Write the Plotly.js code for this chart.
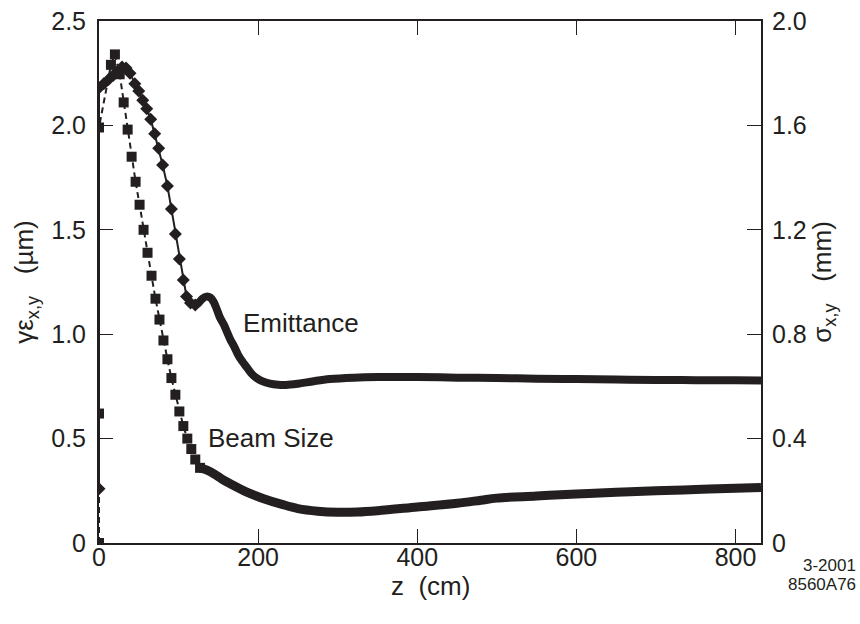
<!DOCTYPE html>
<html>
<head>
<meta charset="utf-8">
<script src="https://cdn.plot.ly/plotly-3.0.1.min.js"></script>
<style>body{margin:0;background:#fff;} #chart{width:860px;height:624px;}</style>
</head>
<body>
<div id="chart"></div>
<script>
// Emittance (µm), left axis — sparse marker section
const emitZ = [0, 0, 6, 12, 18, 24, 29, 34, 39, 45, 50, 55, 60, 65, 70, 75, 80, 86, 91, 96, 101, 106, 110, 115, 121];
const emitV = [0.26, 2.18, 2.2, 2.22, 2.24, 2.26, 2.28, 2.275, 2.25, 2.2, 2.165, 2.12, 2.08, 2.03, 1.96, 1.89, 1.81, 1.71, 1.6, 1.48, 1.36, 1.26, 1.18, 1.15, 1.14];
// Emittance — dense section (markers merge into a band)
const emitTailZ = [121, 125, 130, 135, 140, 144, 148, 152, 157, 161, 165, 170, 175, 180, 186, 192, 198, 205, 215, 225, 235, 250, 270, 290, 320, 350, 400, 450, 500, 550, 600, 650, 700, 750, 800, 832];
const emitTailV = [1.14, 1.15, 1.17, 1.18, 1.175, 1.155, 1.12, 1.08, 1.045, 1.01, 0.975, 0.94, 0.9, 0.87, 0.84, 0.81, 0.79, 0.775, 0.763, 0.758, 0.757, 0.763, 0.775, 0.785, 0.792, 0.795, 0.795, 0.792, 0.79, 0.787, 0.785, 0.783, 0.781, 0.78, 0.779, 0.778];

// Beam size (mm), right axis — sparse marker section
const beamZ = [0, 0, 0, 15, 20, 26, 31, 36, 41, 46, 51, 56, 61, 66, 71, 76, 81, 86, 91, 96, 101, 106, 111, 116, 121, 127];
const beamV = [0, 0.496, 1.592, 1.832, 1.872, 1.796, 1.688, 1.584, 1.48, 1.384, 1.296, 1.2, 1.112, 1.024, 0.936, 0.856, 0.776, 0.704, 0.632, 0.568, 0.504, 0.448, 0.4, 0.36, 0.32, 0.288];
// Beam size — dense section
const beamTailZ = [127, 135, 145, 155, 165, 185, 207, 230, 250, 275, 300, 325, 350, 400, 450, 480, 500, 550, 600, 650, 700, 750, 800, 832];
const beamTailV = [0.288, 0.28, 0.264, 0.244, 0.227, 0.196, 0.17, 0.148, 0.132, 0.122, 0.118, 0.119, 0.124, 0.138, 0.152, 0.164, 0.172, 0.18, 0.188, 0.194, 0.2, 0.205, 0.21, 0.213];

const xTicks = [0, 200, 400, 600, 800];
const yLeftTicks = [0, 0.5, 1.0, 1.5, 2.0, 2.5];
const yLeftLabels = ["0", "0.5", "1.0", "1.5", "2.0", "2.5"];
const yRightTicks = [0, 0.4, 0.8, 1.2, 1.6, 2.0];
const yRightLabels = ["0", "0.4", "0.8", "1.2", "1.6", "2.0"];

const ink = '#231f20';
const fam = 'Liberation Sans, Arial, sans-serif';
const tickFont = {family: fam, size: 25, color: ink};
const titleFont = {family: fam, size: 26, color: ink};
const noteFont = {family: fam, size: 26, color: ink};
const codeFont = {family: fam, size: 17, color: ink};

const traces = [
  {x: emitZ, y: emitV, type: 'scatter', mode: 'lines+markers', yaxis: 'y',
   line: {color: ink, width: 2}, marker: {symbol: 'diamond', size: 10, color: ink}, hoverinfo: 'skip'},
  {x: emitTailZ, y: emitTailV, type: 'scatter', mode: 'lines', yaxis: 'y',
   line: {color: ink, width: 8, shape: 'spline'}, hoverinfo: 'skip'},
  {x: beamZ, y: beamV, type: 'scatter', mode: 'lines+markers', yaxis: 'y2',
   line: {color: ink, width: 2, dash: '6px,4px'}, marker: {symbol: 'square', size: 10, color: ink}, hoverinfo: 'skip'},
  {x: beamTailZ, y: beamTailV, type: 'scatter', mode: 'lines', yaxis: 'y2',
   line: {color: ink, width: 9, shape: 'spline'}, hoverinfo: 'skip'}
];

const layout = {
  width: 860, height: 624,
  margin: {l: 99, r: 99, t: 21, b: 81},
  paper_bgcolor: '#fff', plot_bgcolor: '#fff',
  showlegend: false,
  font: tickFont,
  xaxis: {
    range: [0, 832], tickvals: xTicks, ticktext: xTicks.map(String),
    ticks: 'inside', ticklen: 14, tickwidth: 1, tickcolor: ink,
    showline: true, linecolor: ink, linewidth: 2, mirror: 'ticks',
    showgrid: false, zeroline: false, automargin: false,
    tickfont: tickFont, ticklabelstandoff: -9
  },
  yaxis: {
    range: [0, 2.5], tickvals: yLeftTicks, ticktext: yLeftLabels,
    ticks: 'inside', ticklen: 14, tickwidth: 1, tickcolor: ink,
    showline: true, linecolor: ink, linewidth: 2,
    showgrid: false, zeroline: false, automargin: false,
    tickfont: tickFont, ticklabelstandoff: 6,
    title: {text: 'γε<sub>x,y</sub>\u00a0\u00a0\u00a0(µm)', font: titleFont, standoff: 10}
  },
  yaxis2: {
    range: [0, 2.0], tickvals: yRightTicks, ticktext: yRightLabels,
    overlaying: 'y', side: 'right',
    ticks: 'inside', ticklen: 14, tickwidth: 1, tickcolor: ink,
    showline: true, linecolor: ink, linewidth: 2,
    showgrid: false, zeroline: false, automargin: false,
    tickfont: tickFont, ticklabelstandoff: 4,
    title: {text: 'σ<sub>x,y</sub>\u00a0\u00a0\u00a0(mm)', font: titleFont, standoff: 4}
  },
  annotations: [
    {x: 0.5, y: -0.083, xref: 'paper', yref: 'paper', text: 'z\u00a0\u00a0(cm)', showarrow: false,
     xanchor: 'center', yanchor: 'middle', font: titleFont},
    {x: 178, y: 1.056, xref: 'x', yref: 'y', text: 'Emittance', showarrow: false,
     xanchor: 'left', yanchor: 'middle', font: noteFont},
    {x: 135, y: 0.502, xref: 'x', yref: 'y', text: 'Beam Size', showarrow: false,
     xanchor: 'left', yanchor: 'middle', font: noteFont},
    {x: 1.147, y: -0.044, xref: 'paper', yref: 'paper', text: '3-2001', showarrow: false,
     xanchor: 'right', yanchor: 'middle', align: 'right', font: codeFont},
    {x: 1.147, y: -0.079, xref: 'paper', yref: 'paper', text: '8560A76', showarrow: false,
     xanchor: 'right', yanchor: 'middle', align: 'right', font: codeFont}
  ]
};

Plotly.newPlot('chart', traces, layout, {displayModeBar: false, staticPlot: true});
</script>
</body>
</html>
